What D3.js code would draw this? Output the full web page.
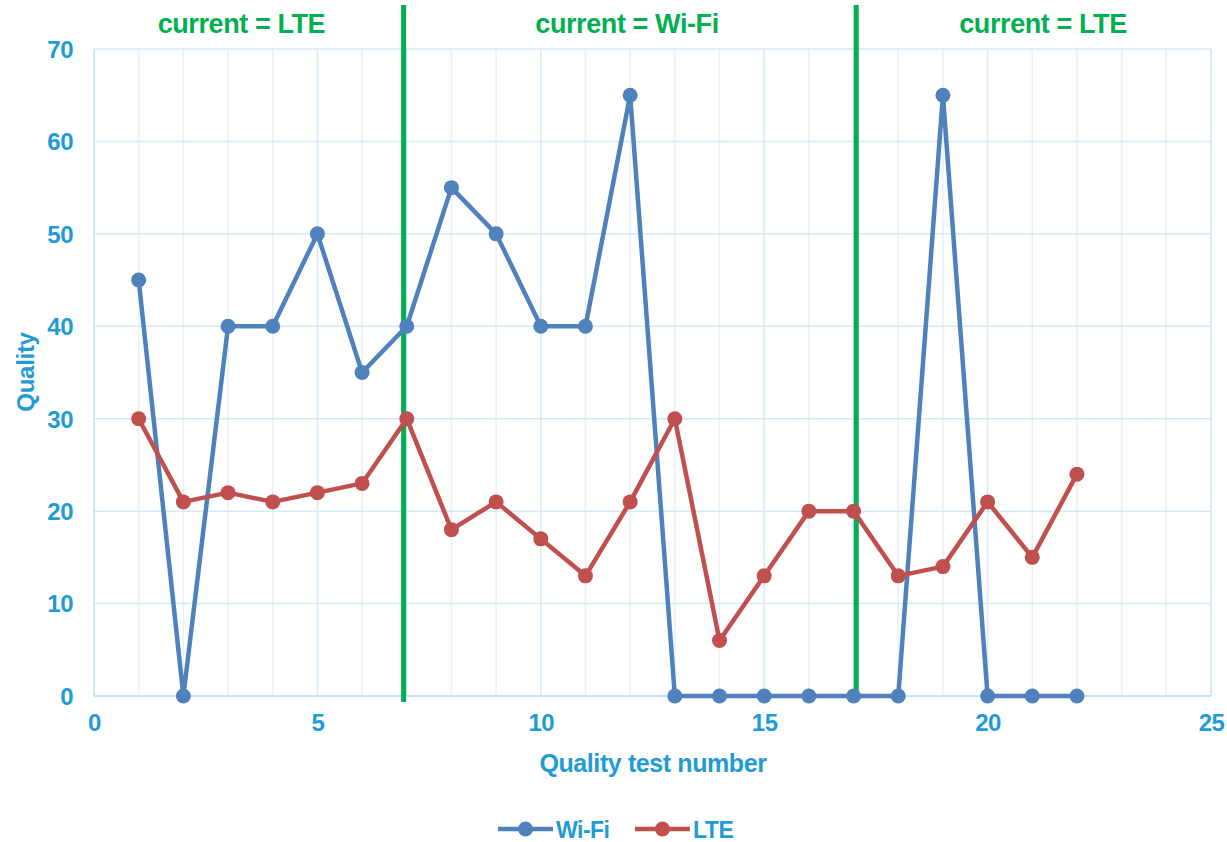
<!DOCTYPE html>
<html><head><meta charset="utf-8">
<script src="https://cdn.jsdelivr.net/npm/d3@7"></script>
<style>
body{margin:0;background:#fff;}
text{font-family:"Liberation Sans",Arial,sans-serif;font-weight:bold;}
</style></head>
<body>
<svg id="c" width="1227" height="842"></svg>
<script>
const testNumbers = [1,2,3,4,5,6,7,8,9,10,11,12,13,14,15,16,17,18,19,20,21,22];
const wifiValues = [45,0,40,40,50,35,40,55,50,40,40,65,0,0,0,0,0,0,65,0,0,0];
const lteValues  = [30,21,22,21,22,23,30,18,21,17,13,21,30,6,13,20,20,13,14,21,15,24];
const xTicks = [0,5,10,15,20,25];
const yTicks = [0,10,20,30,40,50,60,70];
const switchPoints = [6.93,17.06];
const regionLabels = [
  {label:"current = LTE", center:3.3},
  {label:"current = Wi-Fi", center:11.93},
  {label:"current = LTE", center:21.24}
];
const seriesNames = ["Wi-Fi","LTE"];
const colors = {"Wi-Fi":"#4F81BD","LTE":"#C0504D"};
const textColor = "#1F9BD6";
const green = "#00B050";

const svg = d3.select("#c");
const L=94,R=1211,T=49,B=696;
const x = d3.scaleLinear().domain([0,25]).range([L,R]);
const y = d3.scaleLinear().domain([0,70]).range([B,T]);

// minor vertical gridlines
svg.append("g").selectAll("line").data(d3.range(1,25)).join("line")
  .attr("x1",d=>x(d)).attr("x2",d=>x(d)).attr("y1",T).attr("y2",B)
  .attr("stroke",d=>d%5===0?"#D6EAF8":"#E6F2FB").attr("stroke-width",1.5);
// horizontal gridlines
svg.append("g").selectAll("line").data(yTicks).join("line")
  .attr("x1",L).attr("x2",R).attr("y1",d=>y(d)).attr("y2",d=>y(d))
  .attr("stroke","#D3EAF8").attr("stroke-width",1.5);
// frame
svg.append("line").attr("x1",L).attr("x2",L).attr("y1",T).attr("y2",B).attr("stroke","#BFE0F4").attr("stroke-width",1.5);
svg.append("line").attr("x1",R).attr("x2",R).attr("y1",T).attr("y2",B).attr("stroke","#C7E4F6").attr("stroke-width",1.5);
svg.append("line").attr("x1",L).attr("x2",R).attr("y1",B).attr("y2",B).attr("stroke","#BFE0F4").attr("stroke-width",1.5);

// axes labels via d3 axes
const xAxis = svg.append("g").attr("transform",`translate(0,${B})`)
  .call(d3.axisBottom(x).tickValues(xTicks).tickSize(0).tickPadding(18));
xAxis.select(".domain").remove();
xAxis.selectAll("text").attr("fill",textColor).style("font-size","24px").style("letter-spacing","-0.5px").attr("dy","0.71em");
const yAxis = svg.append("g").attr("transform",`translate(${L},0)`)
  .call(d3.axisLeft(y).tickValues(yTicks).tickSize(0).tickPadding(21));
yAxis.select(".domain").remove();
yAxis.selectAll("text").attr("fill",textColor).style("font-size","24px").style("letter-spacing","-0.5px").attr("dy","0.35em");

// axis titles
svg.append("text").attr("x",653).attr("y",772).attr("text-anchor","middle")
  .attr("fill",textColor).style("font-size","25px").style("letter-spacing","-0.4px").text("Quality test number");
svg.append("text").attr("transform",`translate(34,372) rotate(-90)`).attr("text-anchor","middle")
  .attr("fill",textColor).style("font-size","24px").style("letter-spacing","-0.3px").text("Quality");

// switch lines
svg.append("g").selectAll("line").data(switchPoints).join("line")
  .attr("x1",d=>x(d)).attr("x2",d=>x(d)).attr("y1",5).attr("y2",702)
  .attr("stroke",green).attr("stroke-width",5);
svg.append("g").selectAll("text").data(regionLabels).join("text")
  .attr("x",d=>x(d.center)).attr("y",33).attr("text-anchor","middle")
  .attr("fill",green).style("font-size","27px").style("letter-spacing","-0.4px").text(d=>d.label);

// series
const series = [
  {name:"Wi-Fi", values:wifiValues},
  {name:"LTE", values:lteValues}
];
const line = d3.line().x(d=>x(d[0])).y(d=>y(d[1]));
series.forEach(s=>{
  const pts = testNumbers.map((t,i)=>[t,s.values[i]]);
  svg.append("path").datum(pts).attr("d",line).attr("fill","none")
    .attr("stroke",colors[s.name]).attr("stroke-width",4.5).attr("stroke-linejoin","round");
  svg.append("g").selectAll("circle").data(pts).join("circle")
    .attr("cx",d=>x(d[0])).attr("cy",d=>y(d[1])).attr("r",7.5).attr("fill",colors[s.name]);
});

// legend
const lg = svg.append("g");
const legendItems = [{name:"Wi-Fi",x:498},{name:"LTE",x:635}];
legendItems.forEach(it=>{
  const g = lg.append("g").attr("transform",`translate(${it.x},829)`);
  g.append("line").attr("x1",0).attr("x2",55).attr("y1",0).attr("y2",0).attr("stroke",colors[it.name]).attr("stroke-width",4.5);
  g.append("circle").attr("cx",27.5).attr("cy",0).attr("r",7.5).attr("fill",colors[it.name]);
  g.append("text").attr("x",58).attr("y",8.5).attr("fill",textColor).style("font-size","23px").style("letter-spacing","-0.5px").text(it.name);
});
</script>
</body></html>
